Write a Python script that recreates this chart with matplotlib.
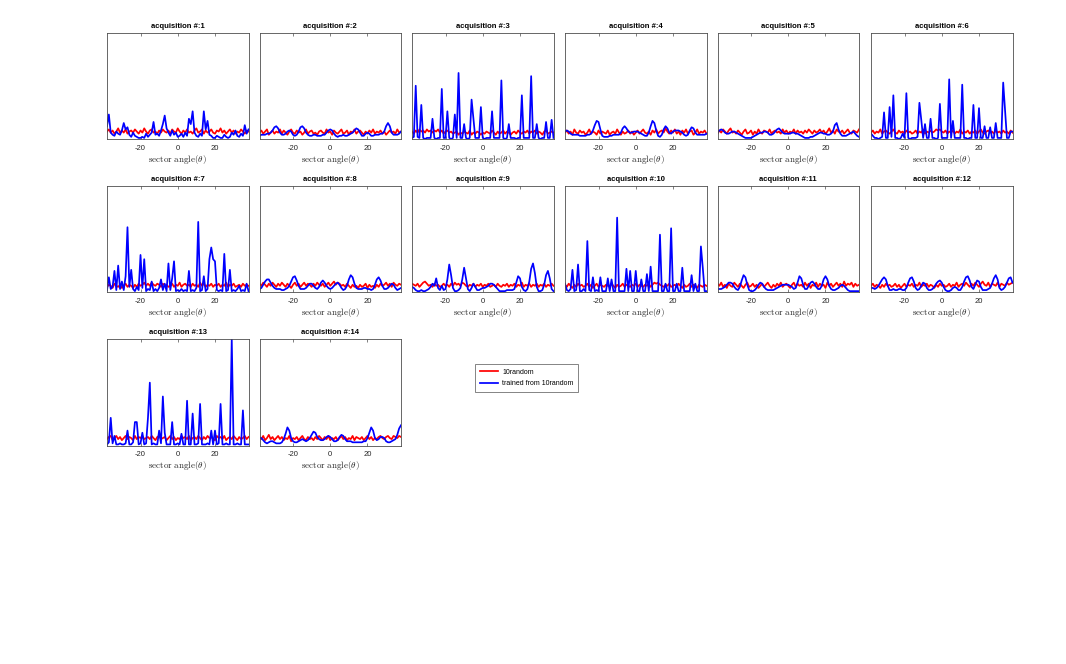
#!/usr/bin/env python3
"""
Beam pattern per acquisition: 10 random sectors vs. the codebook trained from them.
One small panel per acquisition, 6 per row, single shared legend.
"""

import matplotlib
matplotlib.use("Agg")
from matplotlib import pyplot as plt

W, H = 1066, 664

ANGLES = list(range(-38, 39))
TITLES = [f"acquisition #:{k}" for k in range(1, 15)]
LABELS = ["10random", "trained from 10random"]

# normalised gain (percent of the y range), one value per degree
RANDOM_1 = [7, 9, 6, 8, 5, 7, 10, 6, 8, 6, 9,
            5, 7, 8, 6, 9, 7, 5, 8, 6, 10, 7,
            5, 8, 9, 6, 7, 5, 8, 6, 9, 7, 6,
            8, 5, 9, 7, 6, 10, 7, 5, 8, 6, 9,
            6, 7, 5, 8, 10, 6, 7, 9, 5, 8, 6,
            7, 9, 6, 5, 8, 7, 10, 6, 8, 5, 7,
            9, 6, 8, 5, 7, 6, 9, 7, 5, 8, 7]
RANDOM_2 = [6, 8, 5, 7, 9, 4, 6, 8, 5, 7, 6,
            9, 5, 8, 6, 4, 7, 9, 6, 5, 8, 6,
            7, 4, 6, 9, 5, 7, 8, 5, 6, 4, 7,
            8, 6, 5, 9, 6, 7, 4, 8, 6, 5, 7,
            9, 5, 6, 8, 4, 7, 6, 9, 5, 7, 8,
            6, 4, 7, 5, 8, 6, 9, 5, 7, 6, 8,
            5, 7, 4, 6, 8, 6, 7, 5, 9, 6, 7]
RANDOM_3 = [7, 5, 8, 6, 9, 7, 8, 6, 9, 7, 8,
            6, 8, 7, 9, 6, 8, 5, 7, 8, 6, 7,
            5, 6, 7, 4, 6, 5, 7, 6, 5, 8, 4,
            6, 5, 7, 6, 4, 6, 5, 7, 6, 5, 8,
            6, 4, 7, 5, 6, 8, 5, 7, 6, 4, 6,
            7, 5, 8, 6, 5, 7, 6, 8, 5, 7, 6,
            8, 5, 7, 6, 4, 7, 8, 5, 6, 7, 6]
RANDOM_4 = [6, 8, 5, 7, 4, 9, 6, 5, 8, 6, 7,
            4, 6, 9, 5, 7, 6, 4, 8, 5, 7, 6,
            5, 8, 4, 6, 7, 5, 9, 6, 4, 7, 5,
            6, 8, 5, 7, 4, 6, 8, 5, 7, 9, 6,
            5, 7, 4, 8, 6, 9, 5, 7, 8, 6, 10,
            7, 5, 8, 6, 9, 5, 7, 4, 8, 6, 9,
            5, 7, 8, 4, 6, 9, 5, 7, 6, 8, 5]
RANDOM_5 = [5, 8, 6, 9, 7, 5, 8, 10, 6, 7, 5,
            8, 6, 4, 7, 9, 5, 6, 8, 4, 7, 5,
            9, 6, 5, 8, 7, 6, 9, 5, 7, 8, 6,
            7, 5, 9, 6, 8, 5, 7, 6, 9, 5, 8,
            6, 7, 5, 8, 6, 9, 7, 5, 8, 6, 7,
            9, 6, 8, 5, 7, 10, 6, 8, 5, 9, 7,
            6, 8, 5, 7, 9, 6, 5, 8, 7, 6, 9]
RANDOM_6 = [6, 8, 5, 7, 6, 9, 5, 7, 8, 6, 5,
            7, 9, 6, 5, 8, 6, 7, 5, 8, 6, 7,
            5, 6, 8, 5, 7, 6, 9, 5, 7, 6, 8,
            6, 7, 9, 8, 9, 7, 6, 8, 5, 7, 6,
            8, 5, 7, 6, 9, 5, 7, 6, 8, 5, 7,
            6, 8, 5, 7, 9, 6, 5, 7, 8, 6, 7,
            5, 8, 6, 7, 5, 8, 6, 7, 5, 8, 6]
RANDOM_7 = [5, 7, 6, 4, 8, 6, 5, 7, 4, 6, 8,
            5, 7, 6, 4, 7, 5, 8, 6, 7, 9, 6,
            8, 6, 9, 7, 6, 8, 7, 5, 8, 6, 7,
            5, 6, 8, 5, 7, 6, 9, 5, 7, 8, 6,
            7, 5, 8, 6, 7, 5, 9, 6, 8, 5, 7,
            6, 8, 5, 7, 6, 8, 5, 7, 6, 9, 5,
            7, 6, 8, 5, 6, 7, 5, 8, 6, 7, 6]
RANDOM_8 = [8, 6, 9, 7, 5, 8, 6, 9, 7, 5, 8,
            6, 9, 7, 5, 8, 6, 4, 7, 9, 6, 8,
            5, 7, 9, 6, 8, 7, 5, 8, 6, 9, 7,
            6, 8, 5, 7, 9, 6, 8, 10, 7, 9, 8,
            6, 7, 5, 8, 6, 4, 7, 5, 6, 4, 7,
            5, 6, 8, 4, 7, 5, 6, 4, 7, 5, 8,
            6, 7, 9, 6, 8, 5, 9, 7, 6, 8, 7]
RANDOM_9 = [8, 7, 6, 8, 5, 7, 9, 10, 8, 6, 7,
            5, 8, 6, 7, 5, 6, 8, 6, 7, 5, 8,
            6, 9, 7, 8, 6, 9, 8, 6, 5, 7, 6,
            8, 5, 7, 6, 8, 5, 7, 6, 8, 5, 6,
            7, 5, 8, 6, 5, 7, 6, 8, 5, 7, 6,
            8, 5, 7, 6, 9, 5, 7, 6, 8, 5, 7,
            6, 8, 5, 7, 6, 8, 5, 7, 6, 8, 6]
RANDOM_10 = [7, 5, 8, 6, 4, 7, 5, 8, 6, 7, 5,
             6, 8, 5, 7, 4, 6, 8, 5, 7, 6, 5,
             7, 6, 5, 8, 6, 4, 7, 5, 6, 8, 5,
             7, 6, 5, 7, 6, 8, 5, 7, 6, 5, 7,
             6, 8, 5, 7, 9, 8, 9, 7, 6, 5, 7,
             6, 8, 5, 6, 7, 5, 8, 6, 4, 7, 5,
             6, 8, 5, 7, 6, 4, 7, 6, 5, 7, 6]
RANDOM_11 = [8, 6, 9, 5, 7, 4, 8, 6, 5, 9, 7,
             5, 8, 6, 4, 7, 9, 5, 6, 8, 5, 7,
             4, 6, 8, 5, 7, 9, 6, 4, 7, 5, 8,
             6, 9, 5, 7, 8, 6, 4, 7, 9, 5, 8,
             6, 7, 5, 9, 6, 8, 4, 7, 6, 9, 5,
             8, 6, 7, 4, 9, 6, 8, 5, 7, 9, 6,
             8, 5, 10, 6, 8, 7, 9, 5, 8, 6, 7]
RANDOM_12 = [6, 8, 5, 7, 6, 4, 7, 5, 8, 6, 7,
             5, 6, 8, 5, 7, 4, 6, 8, 5, 7, 6,
             8, 5, 7, 6, 9, 5, 7, 6, 8, 5, 7,
             6, 4, 7, 5, 8, 6, 7, 5, 6, 8, 5,
             7, 6, 9, 5, 7, 8, 6, 9, 7, 5, 8,
             6, 9, 7, 5, 8, 10, 7, 6, 9, 5, 8,
             7, 6, 9, 5, 8, 7, 6, 9, 7, 8, 9]
RANDOM_13 = [6, 8, 9, 5, 7, 9, 6, 8, 5, 7, 9,
             6, 8, 7, 5, 9, 6, 8, 7, 9, 6, 7,
             8, 6, 9, 7, 5, 8, 9, 6, 7, 8, 5,
             7, 9, 6, 8, 5, 7, 6, 9, 7, 8, 6,
             9, 5, 7, 8, 6, 9, 7, 5, 8, 6, 9,
             7, 8, 6, 5, 9, 7, 8, 6, 9, 5, 7,
             8, 6, 9, 7, 5, 8, 6, 7, 9, 6, 8]
RANDOM_14 = [8, 6, 9, 5, 7, 10, 6, 8, 5, 7, 9,
             6, 8, 5, 7, 6, 9, 4, 7, 6, 8, 5,
             7, 9, 6, 5, 8, 6, 7, 5, 8, 6, 9,
             7, 5, 8, 6, 9, 5, 7, 6, 8, 5, 7,
             9, 6, 8, 5, 7, 6, 9, 5, 8, 7, 6,
             8, 5, 7, 9, 6, 8, 5, 7, 6, 8, 9,
             7, 6, 8, 9, 7, 6, 9, 8, 7, 9, 8]

TRAINED_1 = [12, 23, 6, 4, 3, 7, 5, 4, 8, 15, 9,
             11, 4, 2, 6, 3, 2, 1, 1, 2, 1, 5,
             2, 4, 6, 16, 4, 5, 3, 8, 14, 22, 10,
             6, 3, 8, 4, 6, 2, 3, 5, 2, 6, 3,
             19, 14, 26, 6, 3, 2, 5, 3, 26, 9, 17,
             4, 3, 1, 1, 3, 2, 1, 1, 4, 2, 1,
             2, 6, 4, 8, 3, 2, 5, 3, 13, 5, 9]
TRAINED_2 = [3, 4, 4, 4, 5, 5, 6, 8, 11, 12, 10,
             6, 4, 4, 5, 7, 8, 7, 4, 3, 4, 7,
             11, 12, 10, 6, 4, 3, 3, 4, 4, 3, 3,
             3, 4, 4, 6, 8, 9, 8, 5, 3, 2, 3,
             3, 4, 3, 3, 4, 5, 6, 8, 10, 9, 6,
             3, 3, 5, 6, 5, 3, 3, 4, 4, 4, 5,
             5, 7, 12, 15, 12, 6, 4, 4, 4, 5, 7]
TRAINED_3 = [1, 2, 50, 2, 1, 32, 1, 0, 1, 1, 1,
             19, 1, 0, 1, 1, 47, 1, 1, 26, 1, 0,
             1, 23, 1, 62, 1, 1, 14, 1, 0, 1, 37,
             19, 1, 1, 1, 30, 1, 0, 1, 1, 1, 26,
             1, 1, 1, 1, 55, 1, 0, 1, 14, 1, 1,
             1, 0, 1, 1, 41, 1, 1, 1, 1, 59, 1,
             1, 14, 1, 0, 1, 1, 16, 1, 1, 18, 1]
TRAINED_4 = [7, 8, 7, 5, 4, 4, 4, 4, 3, 3, 3,
             3, 4, 4, 5, 8, 13, 17, 16, 9, 3, 2,
             2, 2, 3, 3, 4, 4, 4, 4, 6, 10, 12,
             10, 7, 6, 6, 7, 7, 7, 6, 5, 4, 3,
             3, 6, 12, 17, 15, 8, 3, 2, 4, 9, 12,
             10, 6, 5, 7, 8, 8, 8, 7, 6, 4, 3,
             4, 8, 11, 10, 6, 4, 4, 4, 4, 4, 5]
TRAINED_5 = [6, 8, 9, 8, 6, 5, 5, 6, 7, 7, 6,
             5, 4, 3, 2, 1, 1, 1, 1, 2, 3, 4,
             5, 6, 6, 7, 7, 6, 4, 4, 5, 7, 9,
             10, 8, 6, 5, 5, 5, 5, 6, 6, 5, 5,
             4, 3, 2, 1, 1, 1, 2, 2, 3, 4, 5,
             6, 6, 5, 5, 4, 4, 5, 7, 13, 15, 9,
             5, 3, 3, 3, 4, 5, 6, 7, 5, 3, 2]
TRAINED_6 = [5, 3, 1, 1, 0, 1, 2, 25, 1, 1, 30,
             2, 41, 1, 1, 0, 1, 5, 1, 43, 1, 0,
             1, 1, 1, 2, 34, 18, 1, 14, 1, 1, 19,
             1, 1, 0, 1, 33, 1, 1, 1, 1, 56, 1,
             17, 1, 1, 1, 1, 51, 1, 1, 0, 1, 1,
             32, 1, 1, 29, 1, 1, 12, 1, 1, 11, 1,
             1, 15, 1, 1, 1, 53, 27, 1, 1, 7, 7]
TRAINED_7 = [2, 14, 3, 5, 20, 2, 25, 3, 10, 2, 15,
             61, 5, 21, 3, 1, 5, 2, 35, 4, 31, 1,
             3, 2, 10, 1, 3, 1, 4, 12, 2, 8, 1,
             27, 2, 13, 29, 1, 2, 1, 3, 1, 2, 1,
             20, 1, 2, 1, 4, 66, 1, 2, 15, 1, 3,
             31, 42, 31, 29, 2, 1, 2, 1, 36, 1, 2,
             21, 1, 2, 1, 3, 6, 1, 2, 1, 8, 1]
TRAINED_8 = [3, 4, 7, 10, 12, 12, 9, 6, 4, 3, 3,
             3, 2, 2, 3, 4, 6, 10, 14, 15, 11, 6,
             3, 3, 3, 4, 6, 8, 8, 6, 4, 3, 5,
             9, 11, 9, 6, 4, 3, 4, 6, 8, 9, 7,
             4, 2, 3, 6, 12, 16, 14, 8, 4, 3, 3,
             3, 4, 4, 3, 3, 2, 3, 7, 12, 14, 11,
             6, 3, 3, 4, 6, 8, 7, 4, 2, 3, 4]
TRAINED_9 = [5, 4, 2, 1, 1, 2, 1, 1, 2, 3, 5,
             8, 6, 13, 4, 2, 6, 2, 3, 12, 26, 16,
             4, 1, 1, 2, 4, 12, 23, 13, 3, 1, 4,
             8, 5, 2, 2, 3, 4, 4, 5, 6, 8, 8,
             7, 5, 3, 1, 1, 1, 1, 2, 2, 2, 2,
             3, 9, 15, 13, 5, 2, 1, 3, 10, 22, 27,
             18, 5, 1, 1, 2, 7, 16, 20, 13, 3, 1]
TRAINED_10 = [8, 2, 1, 3, 21, 1, 2, 26, 1, 1, 3,
              1, 48, 2, 1, 14, 1, 2, 1, 14, 1, 1,
              1, 13, 1, 12, 1, 1, 70, 1, 1, 1, 1,
              22, 1, 20, 1, 1, 20, 1, 1, 12, 1, 1,
              17, 1, 24, 1, 1, 1, 1, 54, 1, 1, 8,
              1, 1, 60, 1, 1, 8, 1, 1, 23, 1, 1,
              1, 1, 16, 1, 8, 1, 1, 43, 23, 1, 1]
TRAINED_11 = [3, 3, 3, 4, 5, 7, 9, 9, 8, 5, 3,
              2, 5, 11, 16, 14, 7, 2, 1, 1, 2, 4,
              7, 9, 8, 5, 3, 2, 2, 2, 2, 3, 4,
              5, 6, 7, 7, 7, 7, 6, 5, 3, 4, 9,
              15, 13, 7, 3, 3, 6, 9, 10, 8, 5, 3,
              3, 6, 12, 15, 12, 6, 3, 2, 2, 3, 4,
              6, 7, 6, 4, 2, 1, 1, 1, 1, 1, 1]
TRAINED_12 = [4, 4, 3, 4, 6, 9, 12, 14, 12, 6, 2,
              2, 3, 2, 2, 3, 3, 2, 2, 4, 9, 13,
              14, 10, 4, 2, 3, 6, 9, 8, 4, 2, 2,
              3, 5, 8, 10, 11, 9, 5, 2, 1, 1, 2,
              4, 5, 4, 2, 2, 5, 10, 14, 15, 11, 5,
              3, 7, 11, 10, 5, 2, 2, 2, 3, 4, 8,
              13, 16, 12, 4, 2, 3, 5, 9, 13, 14, 9]
TRAINED_13 = [1, 3, 26, 2, 9, 1, 1, 2, 1, 1, 2,
              14, 1, 1, 3, 22, 22, 1, 2, 12, 1, 2,
              26, 59, 1, 2, 1, 1, 14, 2, 46, 12, 1,
              1, 1, 22, 1, 1, 2, 1, 11, 1, 1, 42,
              1, 1, 30, 1, 1, 2, 39, 1, 1, 1, 2,
              1, 14, 1, 14, 1, 2, 39, 1, 1, 2, 1,
              1, 100, 1, 1, 2, 1, 1, 33, 1, 1, 1]
TRAINED_14 = [7, 7, 5, 3, 2, 3, 4, 4, 3, 2, 2,
              2, 3, 6, 11, 17, 14, 7, 4, 3, 3, 4,
              5, 6, 5, 4, 5, 7, 10, 13, 12, 8, 6,
              5, 5, 6, 8, 9, 8, 6, 4, 4, 5, 8,
              10, 9, 6, 4, 4, 4, 3, 3, 3, 3, 3,
              3, 4, 4, 7, 12, 17, 14, 7, 5, 6, 8,
              8, 7, 4, 3, 3, 4, 5, 6, 10, 16, 19]

RANDOM = [RANDOM_1, RANDOM_2, RANDOM_3, RANDOM_4, RANDOM_5, RANDOM_6, RANDOM_7,
          RANDOM_8, RANDOM_9, RANDOM_10, RANDOM_11, RANDOM_12, RANDOM_13, RANDOM_14]
TRAINED = [TRAINED_1, TRAINED_2, TRAINED_3, TRAINED_4, TRAINED_5, TRAINED_6, TRAINED_7,
           TRAINED_8, TRAINED_9, TRAINED_10, TRAINED_11, TRAINED_12, TRAINED_13, TRAINED_14]

# panel grid in pixels (MATLAB subplot layout)
COL_LEFT = [107, 259.5, 412, 565, 717.5, 871]
ROW_TOP = [32.5, 185.7, 339]
AX_W, AX_H = 141.5, 106.5

EDGE = "0.3"
TXT = "0.15"

plt.rcParams["font.family"] = ["Liberation Sans", "DejaVu Sans"]
plt.rcParams["mathtext.fontset"] = "cm"
plt.rcParams["axes.unicode_minus"] = False

fig = plt.figure(figsize=(W / 100, H / 100), dpi=100)

lines = None
for k in range(14):
    assert len(RANDOM[k]) == len(ANGLES) and len(TRAINED[k]) == len(ANGLES), k
    r, c = divmod(k, 6)
    ax = fig.add_axes([COL_LEFT[c] / W, 1 - (ROW_TOP[r] + AX_H) / H, AX_W / W, AX_H / H])
    l1, = ax.plot(ANGLES, RANDOM[k], color="red", lw=1.25)
    l2, = ax.plot(ANGLES, TRAINED[k], color="blue", lw=1.25)
    lines = (l1, l2)
    ax.set_xlim(-38, 38)
    ax.set_ylim(0, 100)
    ax.set_xticks([-20, 0, 20])
    ax.set_yticks([])
    ax.tick_params(axis="x", direction="in", top=True, length=2.5, width=0.5,
                   labelsize=5.5, pad=4, colors=EDGE, labelcolor=TXT)
    for s in ax.spines.values():
        s.set_color(EDGE)
        s.set_linewidth(0.6)
    ax.set_title(TITLES[k], fontsize=5.5, fontweight="bold", pad=3.5, color="black")
    ax.set_xlabel(r"$\mathrm{sector\ angle}(\theta)$", fontsize=6.5, labelpad=1, color=TXT)

leg = fig.legend(lines, LABELS, loc="upper left",
                 bbox_to_anchor=(475 / W, 1 - 364 / H), borderaxespad=0,
                 fontsize=5, frameon=True, fancybox=False, handlelength=2.6,
                 handletextpad=0.6, borderpad=0.7, labelspacing=0.6)
leg.get_frame().set_edgecolor(EDGE)
leg.get_frame().set_linewidth(0.6)

fig.savefig("out.png", dpi=100, facecolor="white")
